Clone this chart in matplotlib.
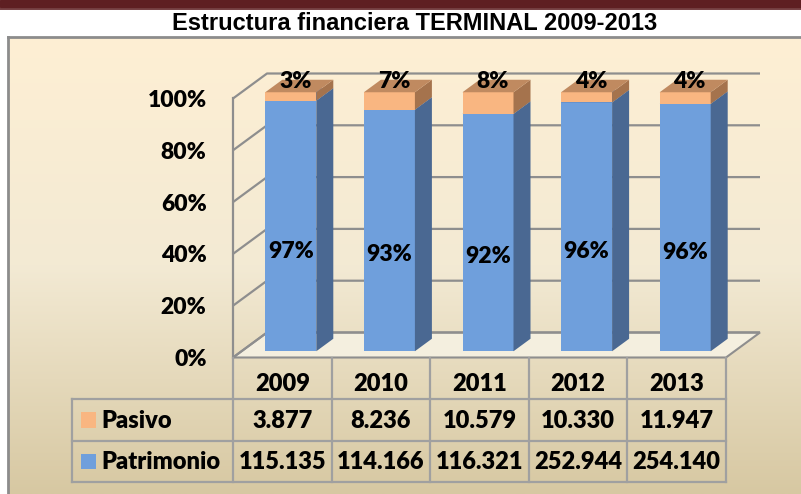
import numpy as np
import matplotlib.pyplot as plt
from matplotlib.patches import Polygon, Rectangle
from matplotlib.lines import Line2D
from matplotlib.colors import LinearSegmentedColormap

# datos
anios = ['2009', '2010', '2011', '2012', '2013']
pasivo = [3877, 8236, 10579, 10330, 11947]
patrimonio = [115135, 114166, 116321, 252944, 254140]
series = ['Pasivo', 'Patrimonio']
titulo = 'Estructura financiera TERMINAL 2009-2013'
marcas_y = [0, 0.2, 0.4, 0.6, 0.8, 1.0]

# colores
c_frente = {'Patrimonio': '#6F9FDC', 'Pasivo': '#F9B681'}
c_lado = {'Patrimonio': '#4A6892', 'Pasivo': '#A5734D'}
c_tapa = {'Patrimonio': '#5A82B8', 'Pasivo': '#C08A60'}
c_grid = '#8E8E8E'
c_tabla = '#A0A0A0'
fuente = 'Lato'
peso = 'heavy'

W, H = 801, 494
fig = plt.figure(figsize=(W / 100, H / 100), dpi=100)


def caja(x0, y0, x1, y1):
    """rectangulo en pixeles (origen arriba-izquierda) -> coords figura"""
    return [x0 / W, 1 - y1 / H, (x1 - x0) / W, (y1 - y0) / H]


# fondo degradado del area del grafico
fondo = fig.add_axes(caja(8, 37, W, H))
fondo.axis('off')
cmap = LinearSegmentedColormap.from_list('fondo', ['#FEEFD3', '#F3EAD4', '#D7C8A2'])
fondo.imshow(np.linspace(0, 1, 256)[:, None], aspect='auto', cmap=cmap,
             extent=[0, 1, 0, 1])
fig.add_artist(Line2D([8 / W, 8 / W], [0, 1 - 37 / H], color='#8C8C8C', lw=2,
                      transform=fig.transFigure))
fig.add_artist(Line2D([8 / W, 1], [1 - 37 / H, 1 - 37 / H], color='#8C8C8C',
                      lw=2, transform=fig.transFigure))

# franja superior
fig.add_artist(Rectangle((0, 1 - 7 / H), 1, 7 / H, color='#5E1F22',
                         transform=fig.transFigure))
fig.add_artist(Line2D([0, 1], [1 - 9 / H, 1 - 9 / H], color='#5E1F22', lw=1.2,
                      transform=fig.transFigure))

fig.text(415 / W, 1 - 23 / H, titulo, ha='center', va='center', fontsize=17,
         fontweight='bold', family='Liberation Sans')

# ejes principales (plano frontal)
ax = fig.add_axes(caja(233, 98.5, 726, 357.5))
ax.set_xlim(-0.5, 4.5)
ax.set_ylim(0, 1)
ax.patch.set_visible(False)
for s in ax.spines.values():
    s.set_visible(False)
ax.set_xticks([])

DX = 34 / 98.6
DY = 25 / 259
Z0, Z1 = 0.25, 0.75
ANCHO = 51 / 98.6
n = len(anios)

# piso
ax.add_patch(Polygon([(-0.5, 0), (n - 0.5, 0), (n - 0.5 + DX, DY),
                      (-0.5 + DX, DY)], closed=True, fc='#F4EFDF',
                     ec=c_grid, lw=1.5, zorder=1, clip_on=False))
# paredes y lineas de division
for v in marcas_y:
    ax.plot([-0.5, -0.5 + DX, n - 0.5 + DX], [v, v + DY, v + DY],
            color=c_grid, lw=1.6, zorder=1.5, clip_on=False,
            solid_capstyle='butt')
ax.plot([-0.5, -0.5], [0, 1], color=c_grid, lw=1.6, zorder=1.5, clip_on=False)


def bloque(i, b, h, serie, z):
    x0 = i - ANCHO / 2 + Z0 * DX
    x1 = x0 + ANCHO
    y0 = b + Z0 * DY
    y1 = y0 + h
    ddx = (Z1 - Z0) * DX
    ddy = (Z1 - Z0) * DY
    ax.bar(i + Z0 * DX, h, ANCHO, bottom=y0, color=c_frente[serie],
           zorder=z, clip_on=False, lw=0)
    ax.add_patch(Polygon([(x1, y0), (x1 + ddx, y0 + ddy), (x1 + ddx, y1 + ddy),
                          (x1, y1)], closed=True, fc=c_lado[serie], lw=0,
                         zorder=z, clip_on=False))
    ax.add_patch(Polygon([(x0, y1), (x1, y1), (x1 + ddx, y1 + ddy),
                          (x0 + ddx, y1 + ddy)], closed=True, fc=c_tapa[serie],
                         lw=0, zorder=z, clip_on=False))


estilo = dict(fontsize=16.5, fontweight=peso, family=fuente, color='black')
for i in range(n):
    total = pasivo[i] + patrimonio[i]
    fp = patrimonio[i] / total
    fs = pasivo[i] / total
    bloque(i, 0, fp, 'Patrimonio', 3)
    bloque(i, fp, fs, 'Pasivo', 4)
    ax.text(i + Z0 * DX, Z0 * DY + 0.40 * fp, f'{fp:.0%}', ha='center',
            va='center', zorder=6, **estilo)
    ax.text(i + Z0 * DX + 0.045, 1 + Z0 * DY + 0.04, f'{fs:.0%}',
            ha='center', va='center', zorder=6, **estilo)

ax.set_yticks(marcas_y)
ax.set_yticklabels([f'{v:.0%}' for v in marcas_y], fontsize=16.5,
                   fontweight=peso, family=fuente)
ax.tick_params(axis='y', length=0, pad=19)

# tabla de datos
XL = -0.5 - 161 / 98.6
tb = fig.add_axes(caja(72, 358, 726, 482))
tb.set_xlim(XL, n - 0.5)
tb.set_ylim(3, 0)
tb.axis('off')
for k in range(n + 1):
    tb.plot([k - 0.5, k - 0.5], [0, 3], color=c_tabla, lw=1.6, clip_on=False)
tb.plot([XL, XL], [1, 3], color=c_tabla, lw=1.6, clip_on=False)
for r in [1, 2, 3]:
    tb.plot([XL, n - 0.5], [r, r], color=c_tabla, lw=1.6, clip_on=False)

estilo_t = dict(fontsize=17, fontweight=peso, family=fuente, color='black')
for i in range(n):
    tb.text(i, 0.62, anios[i], ha='center', va='center', **estilo_t)
    tb.text(i, 1.52, f'{pasivo[i]:,}'.replace(',', '.'), ha='center',
            va='center', **estilo_t)
    tb.text(i, 2.52, f'{patrimonio[i]:,}'.replace(',', '.'), ha='center',
            va='center', **estilo_t)

lado = 15 / 98.6
alto = 15 / 41.3
for r, serie in enumerate(series, start=1):
    tb.add_patch(Rectangle((XL + 9 / 98.6, r + 0.5 - alto / 2), lado, alto,
                           color=c_frente[serie], lw=0))
    tb.text(XL + 29 / 98.6, r + 0.52, serie, ha='left', va='center', **estilo_t)

fig.savefig('out.png', dpi=100)
